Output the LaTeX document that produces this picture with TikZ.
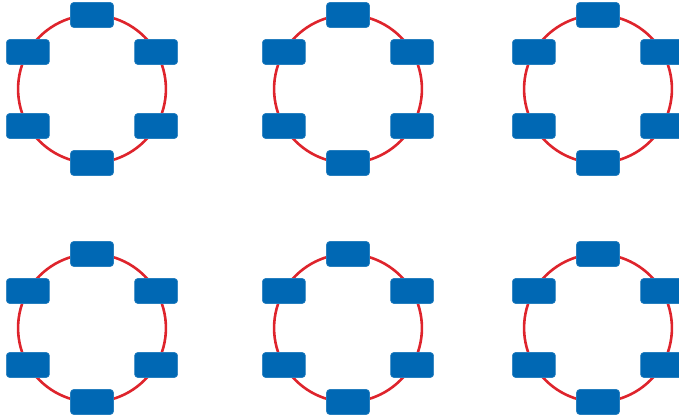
\documentclass[tikz,border=0pt]{standalone}
\usepackage{xcolor}
\usetikzlibrary{calc,backgrounds}
\definecolor{stblue}{RGB}{0,104,180}
\definecolor{ringred}{RGB}{222,36,44}

\begin{document}
\begin{tikzpicture}[x=0.5mm,y=0.5mm,
  stn/.style={rectangle,rounded corners=1.6mm,fill=stblue,draw=stblue!85!white,line width=0.3mm,
    minimum width=21.5mm,minimum height=12.5mm,inner sep=0pt},
  ring/.style={draw=ringred,line width=1.3mm}]
\useasboundingbox (0,0) rectangle (679,418);
% six rings, six stations on each
\foreach \cx/\cy/\r in {92/329/a,348/329/b,598/329/c,92/90/d,348/90/e,598/90/f}{
  \foreach \k/\ang in {1/90,2/30,3/-30,4/-90,5/-150,6/150}
    \node[stn] (\r\k) at ($(\cx,\cy)+(\ang:74)$) {};
  \begin{pgfonlayer}{background}
  \foreach \i/\j in {1/2,2/3,3/4,4/5,5/6,6/1}
    \draw[ring] (\r\i.center) to[bend left=30,looseness=0.91] (\r\j.center);
  \end{pgfonlayer}}
\end{tikzpicture}
\end{document}
